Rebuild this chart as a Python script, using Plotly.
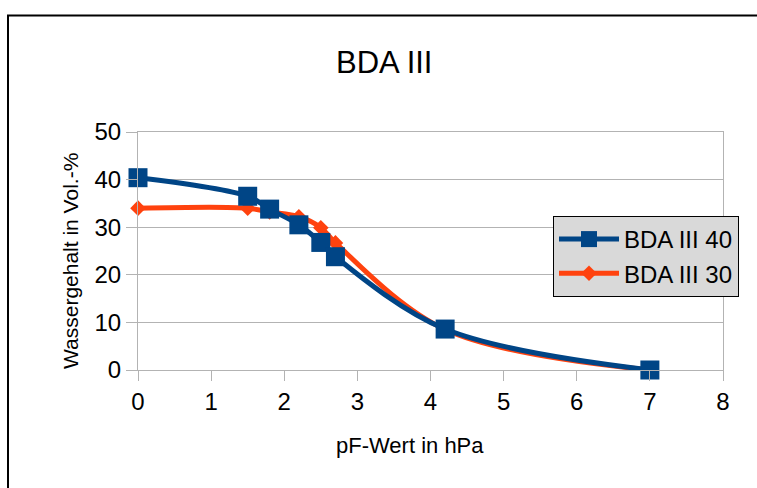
import plotly.graph_objects as go

title_text = "BDA III"
x_title = "pF-Wert in hPa"
y_title = "Wassergehalt in Vol.-%"

series_names = ["BDA III 40", "BDA III 30"]
pf_40 = [0, 1.5, 1.8, 2.2, 2.5, 2.7, 4.2, 7]
wg_40 = [40.4, 36.5, 33.8, 30.5, 26.8, 23.8, 8.6, 0]
pf_30 = [0, 1.5, 1.8, 2.2, 2.5, 2.7, 4.2, 7]
wg_30 = [34.0, 34.0, 33.2, 32.2, 29.9, 26.7, 8.5, 0]

x_ticks = [0, 1, 2, 3, 4, 5, 6, 7, 8]
y_ticks = [0, 10, 20, 30, 40, 50]

BLUE = "#004586"
ORANGE = "#ff420e"
GRID = "#b3b3b3"
FONT = "Liberation Sans"

fig = go.Figure()
fig.add_trace(go.Scatter(
    x=pf_30, y=wg_30, name=series_names[1], mode="lines+markers",
    line=dict(color=ORANGE, width=5, shape="spline"),
    marker=dict(symbol="diamond", size=12, color=ORANGE),
    legendrank=2, cliponaxis=False,
))
fig.add_trace(go.Scatter(
    x=pf_40, y=wg_40, name=series_names[0], mode="lines+markers",
    line=dict(color=BLUE, width=5, shape="spline"),
    marker=dict(symbol="square", size=19, color=BLUE),
    legendrank=1, cliponaxis=False,
))

L, R, T, B = 138, 34, 132, 118
W, H = 757, 488
pw, ph = W - L - R, H - T - B

def px(x):
    return (x - L) / pw

def py(y):
    return (H - B - y) / ph

fig.update_layout(
    width=W, height=H,
    margin=dict(l=L, r=R, t=T, b=B, pad=0),
    paper_bgcolor="white", plot_bgcolor="white",
    font=dict(family=FONT, size=22, color="black"),
    showlegend=True,
    legend=dict(
        x=px(553), y=py(216), xanchor="left", yanchor="top",
        bgcolor="#d9d9d9", bordercolor="black", borderwidth=1,
        font=dict(family=FONT, size=24, color="black"),
        tracegroupgap=0, itemwidth=60,
    ),
    xaxis=dict(
        range=[0, 8], tickvals=x_ticks, showgrid=False, zeroline=False,
        showline=True, linecolor=GRID, linewidth=1, mirror=True,
        ticks="outside", ticklen=10, tickcolor=GRID,
        tickfont=dict(family=FONT, size=24, color="black"),
        fixedrange=True,
    ),
    yaxis=dict(
        range=[0, 50], tickvals=y_ticks, showgrid=True, gridcolor=GRID,
        gridwidth=1, zeroline=False,
        showline=True, linecolor=GRID, linewidth=1, mirror=True,
        ticks="outside", ticklen=11, tickcolor=GRID,
        tickfont=dict(family=FONT, size=24, color="black"),
        fixedrange=True,
    ),
    annotations=[
        dict(text=title_text, xref="paper", yref="paper", x=px(384), y=py(63),
             xanchor="center", yanchor="middle", showarrow=False,
             font=dict(family=FONT, size=31, color="black")),
        dict(text=x_title, xref="paper", yref="paper", x=px(410), y=py(445),
             xanchor="center", yanchor="middle", showarrow=False,
             font=dict(family=FONT, size=22, color="black")),
        dict(text=y_title, xref="paper", yref="paper", x=px(70), y=py(261),
             xanchor="center", yanchor="middle", showarrow=False, textangle=-90,
             font=dict(family=FONT, size=21, color="black")),
    ],
    shapes=[
        dict(type="rect", xref="paper", yref="paper",
             x0=px(8), x1=px(900), y0=py(600), y1=py(15.5),
             line=dict(color="black", width=2), fillcolor="rgba(0,0,0,0)",
             layer="below"),
    ],
)

fig.write_html("out.html")
